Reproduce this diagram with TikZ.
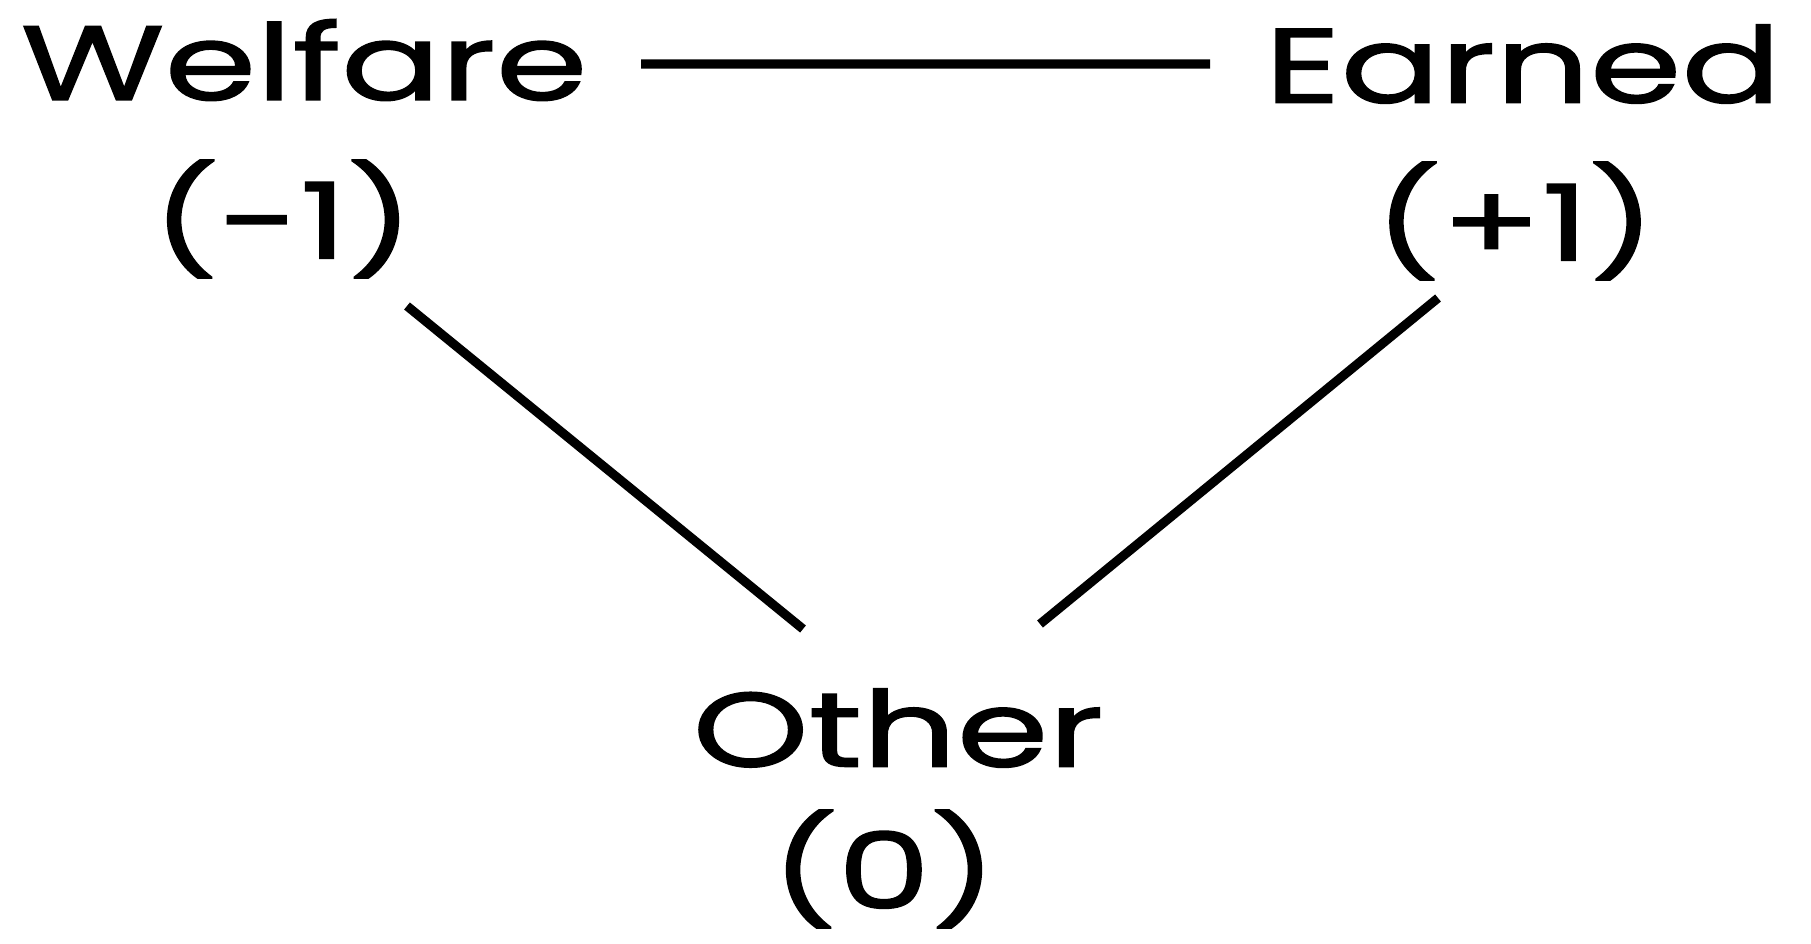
\documentclass[tikz,border=0pt]{standalone}
\usepackage{fontspec}
\setmainfont{Poppins}[FakeStretch=1.4,FakeBold=1.4]
\usetikzlibrary{calc}
\begin{document}
\begin{tikzpicture}[x=1cm,y=1cm,
  lbl/.style={inner sep=0pt, font=\fontsize{30}{36}\selectfont},
  link/.style={line width=2.6pt}]
\useasboundingbox (0,0) rectangle (18.11,9.43);
\node[lbl] (welfare) at (3.04,8.83) {Welfare};
\node[lbl] (m1) at (2.83,7.24) {(-1)};
\node[lbl] (earned) at (15.23,8.79) {Earned};
\node[lbl] (p1) at (15.15,7.22) {(+1)};
\node[lbl] (other) at (8.98,2.15) {Other};
\node[lbl] (zero) at (8.84,0.74) {(0)};
\draw[link] ($(welfare.center)+(3.37,-0.04)$) -- ($(earned.center)+(-3.13,0)$);
\draw[link] ($(m1.center)+(1.24,-0.87)$) -- ($(other.center)+(-0.95,0.99)$);
\draw[link] ($(p1.center)+(-0.77,-0.77)$) -- ($(other.center)+(1.42,1.04)$);
\end{tikzpicture}
\end{document}
